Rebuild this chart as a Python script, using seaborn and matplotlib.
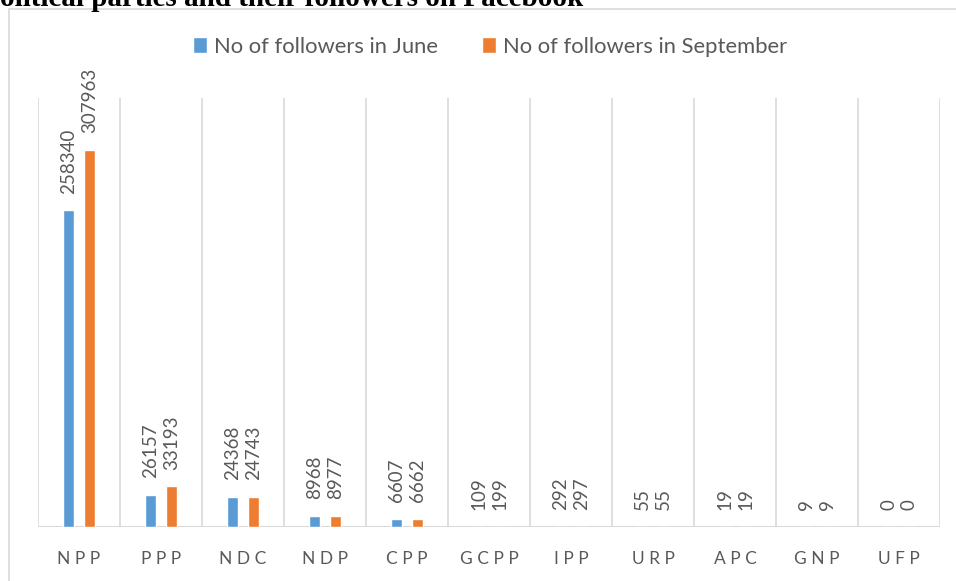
import matplotlib
matplotlib.use("Agg")
import matplotlib.pyplot as plt
import seaborn as sns
import pandas as pd
from matplotlib.patches import Rectangle

parties = ["NPP", "PPP", "NDC", "NDP", "CPP", "GCPP", "IPP", "URP", "APC", "GNP", "UFP"]
june = [258340, 26157, 24368, 8968, 6607, 109, 292, 55, 19, 9, 0]
september = [307963, 33193, 24743, 8977, 6662, 199, 297, 55, 19, 9, 0]
series_names = ["No of followers in June", "No of followers in September"]
colors = ["#5B9BD5", "#ED7D31"]
title = "olitical parties and their followers on Facebook"

df = pd.DataFrame({
    "party": parties * 2,
    "value": june + september,
    "series": [series_names[0]] * len(parties) + [series_names[1]] * len(parties),
})

sns.set_theme(style="white")
plt.rcParams["font.family"] = ["Lato", "DejaVu Sans"]

W, H = 956, 581
fig = plt.figure(figsize=(W / 100, H / 100), dpi=100)
fig.patch.set_facecolor("white")

# outer chart border (extends beyond the image on right/bottom)
fig.patches.append(Rectangle((9 / W, -0.1), 1.2, 1 - 9 / H + 0.1, transform=fig.transFigure,
                             fill=False, edgecolor="#D9D9D9", linewidth=1.2))

ax = fig.add_axes([38 / W, (H - 527) / H, (940 - 38) / W, (527 - 98) / H])
sns.barplot(data=df, x="party", y="value", hue="series", palette=colors,
            width=0.512, gap=0.477, ax=ax, legend=False, saturation=1)

gray = "#595959"
for cont in ax.containers:
    ax.bar_label(cont, labels=[str(int(v)) for v in cont.datavalues], rotation=90,
                 padding=12, color=gray, fontsize=13.5)

ax.set_ylim(0, 350000)
ax.set_xlim(-0.5, len(parties) - 0.5)
for xb in range(len(parties) + 1):
    ax.axvline(xb - 0.5, color="#D9D9D9", linewidth=1.2, zorder=0)
ax.axhline(0, color="#D9D9D9", linewidth=1.5, zorder=0)
for s in ax.spines.values():
    s.set_visible(False)
ax.set_yticks([])
ax.set_xlabel("")
ax.set_ylabel("")
ax.set_xticks(range(len(parties)))
ax.set_xticklabels([" ".join(p) for p in parties], color=gray, fontsize=12.5)
ax.tick_params(axis="x", length=0, pad=17)

handles = [Rectangle((0, 0), 1, 1, facecolor=c) for c in colors]
fig.legend(handles, series_names, loc="center", bbox_to_anchor=(490 / W, 1 - 47 / H),
           ncol=2, frameon=False, fontsize=15.8, labelcolor=gray, handlelength=0.65,
           handleheight=0.75, handletextpad=0.3, columnspacing=2.0)

fig.text(0, 1 - 5.5 / H, title, family=["Liberation Serif", "DejaVu Serif"], fontweight="bold",
         fontsize=21, va="baseline", ha="left", color="black")

fig.savefig("out.png", dpi=100)
